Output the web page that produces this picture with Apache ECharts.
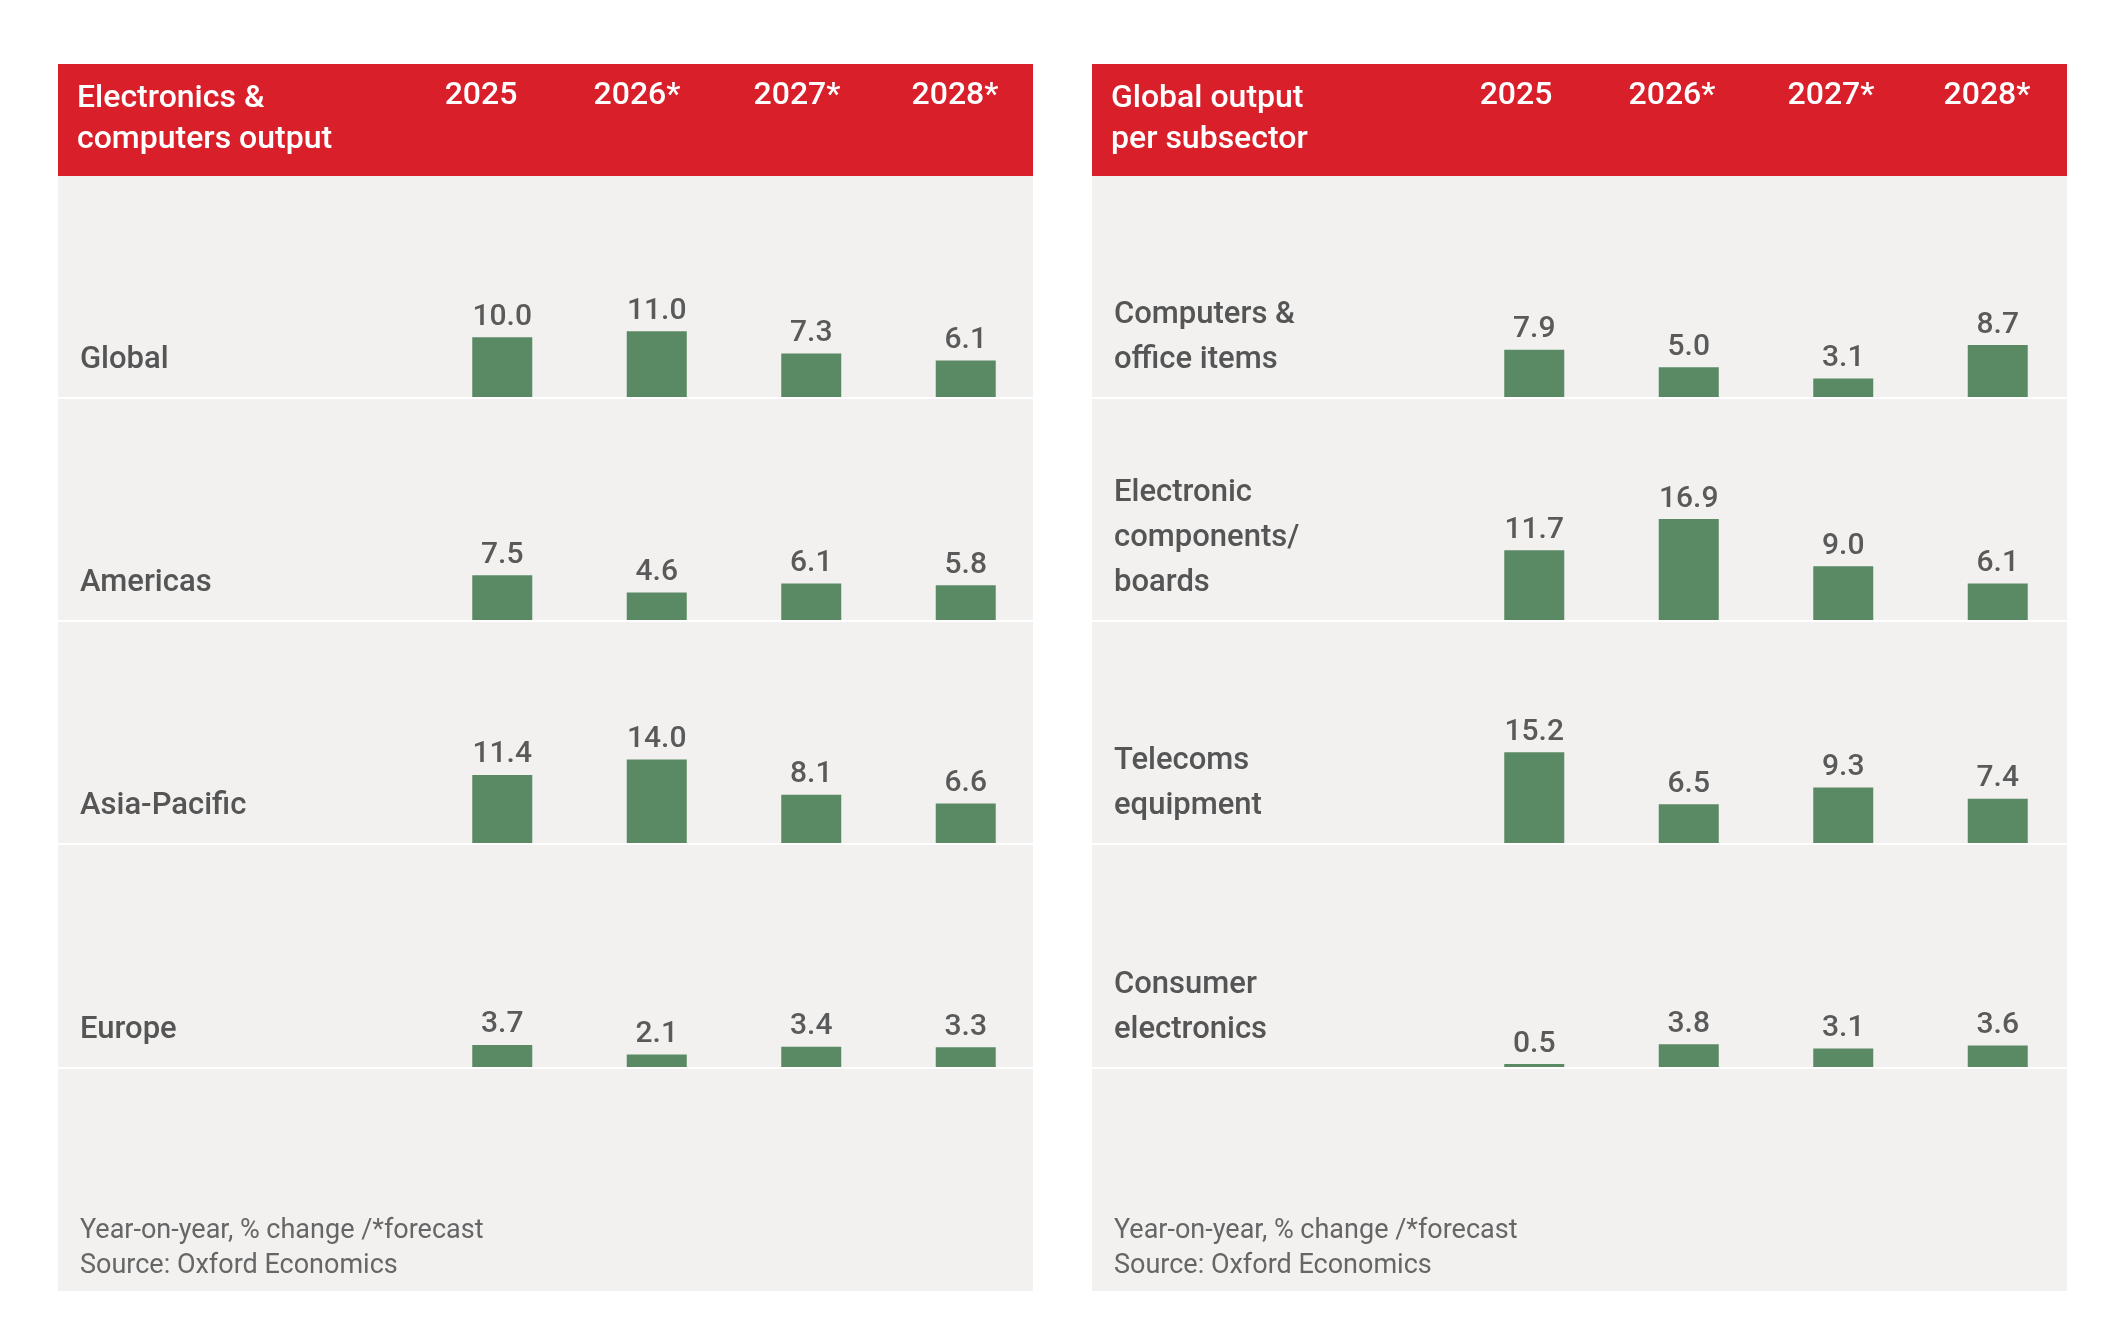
<!DOCTYPE html>
<html><head><meta charset="utf-8">
<script src="https://cdn.jsdelivr.net/npm/echarts@6/dist/echarts.min.js"></script>
<style>html,body{margin:0;background:#fff}#main{width:2126px;height:1335px}</style>
</head><body><div id="main"></div>
<script>
// data
const years = ['2025', '2026*', '2027*', '2028*'];
const regions = ['Global', 'Americas', 'Asia-Pacific', 'Europe'];
const regionValues = [
    [10.0, 11.0, 7.3, 6.1],
    [7.5, 4.6, 6.1, 5.8],
    [11.4, 14.0, 8.1, 6.6],
    [3.7, 2.1, 3.4, 3.3]
];
const subsectors = ['Computers &\noffice items', 'Electronic\ncomponents/\nboards', 'Telecoms\nequipment', 'Consumer\nelectronics'];
const subsectorValues = [
    [7.9, 5.0, 3.1, 8.7],
    [11.7, 16.9, 9.0, 6.1],
    [15.2, 6.5, 9.3, 7.4],
    [0.5, 3.8, 3.1, 3.6]
];

const font = 'Roboto, "Noto Sans", sans-serif';
const baselines = [397, 620, 843, 1067];
const panels = [
    {x: 58, gridLeft: 425, title: 'Electronics &\ncomputers output', yearX: [481, 637, 797, 955], labels: regions, values: regionValues},
    {x: 1092, gridLeft: 1457, title: 'Global output\nper subsector', yearX: [1516, 1672, 1831, 1987], labels: subsectors, values: subsectorValues}
];
const panelW = 975, unit = 5.97, yMax = 20;

let grid = [], xAxis = [], yAxis = [], series = [], graphic = [];
panels.forEach((p, pi) => {
    graphic.push({type: 'rect', shape: {x: p.x, y: 64, width: panelW, height: 1227}, style: {fill: '#f2f1f0'}, z: -10});
    graphic.push({type: 'rect', shape: {x: p.x, y: 64, width: panelW, height: 112}, style: {fill: '#d81f2a'}, z: -9});
    graphic.push({type: 'text', x: p.x + 19, y: 78, style: {text: p.title, fill: '#fff', font: '500 32px ' + font, lineHeight: 41}});
    years.forEach((yr, i) => {
        graphic.push({type: 'text', x: p.yearX[i], y: 96, style: {text: yr, fill: '#fff', font: '500 32px ' + font, align: 'center', verticalAlign: 'middle'}});
    });
    graphic.push({type: 'text', x: p.x + 22, y: 1214, style: {text: 'Year-on-year, % change /*forecast\nSource: Oxford Economics', fill: '#666', font: '27px ' + font, lineHeight: 35}});
    baselines.forEach((b, ri) => {
        graphic.push({type: 'rect', shape: {x: p.x, y: b, width: panelW, height: 2}, style: {fill: '#fff'}, z: 10});
        const lines = p.labels[ri].split('\n').length;
        graphic.push({type: 'text', x: p.x + 22, y: b - 14 - lines * 45, style: {text: p.labels[ri], fill: '#555', font: '500 31px ' + font, lineHeight: 45}});
        const idx = grid.length;
        grid.push({left: p.gridLeft, top: b - unit * yMax, width: 618, height: unit * yMax});
        xAxis.push({type: 'category', gridIndex: idx, data: years, show: false});
        yAxis.push({type: 'value', gridIndex: idx, min: 0, max: yMax, show: false});
        series.push({
            type: 'bar', xAxisIndex: idx, yAxisIndex: idx, barWidth: 60,
            data: p.values[ri],
            itemStyle: {color: '#5a8a64'},
            label: {show: true, position: 'top', distance: 5, color: '#5a5a5a', fontSize: 30, fontFamily: font, fontWeight: 500,
                formatter: (d) => d.value.toFixed(1)},
            silent: true
        });
    });
});

const myChart = echarts.init(document.getElementById('main'));
myChart.setOption({animation: false, grid, xAxis, yAxis, series, graphic});
</script></body></html>
